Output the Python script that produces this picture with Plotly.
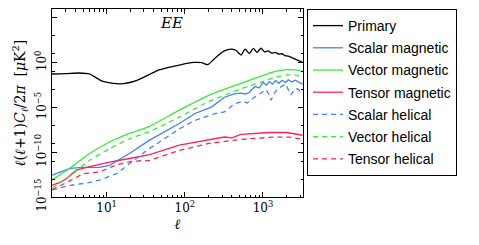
import plotly.graph_objects as go

# ---- data ----
ell_primary = [2, 3, 4.5, 6, 9, 14.7, 24, 47, 85, 130, 165, 196, 230, 264, 321, 390, 453, 525,
               590, 670, 754, 840, 945, 1042, 1172, 1292, 1440, 1600, 1750, 1900, 2100, 2500, 3213]
cl_primary = [0.055, 0.06, 0.071, 0.055, 0.008, 0.0043, 0.010, 0.155, 0.55, 1.07, 1.0, 0.6, 2.0, 6.0,
              21, 33, 23, 7.1, 33, 10.7, 39, 14, 43, 16.6, 21, 11.7, 14, 8.9, 10, 6.3, 5.6, 2.8, 1.07]

ell_scalar_mag = [2, 3.4, 5, 8.1, 10.9, 19.6, 35, 85, 133, 219, 321, 430, 525, 600, 670, 780, 900,
                  1000, 1100, 1200, 1320, 1450, 1600, 1750, 1950, 2100, 2350, 2600, 2900, 3213]
cl_scalar_mag = [2.8e-13, 1.6e-12, 2.0e-12, 2.0e-12, 3.5e-12, 7.1e-11, 2.1e-9, 1.6e-7, 2.0e-6, 1.1e-5,
                 1.4e-4, 3.3e-4, 4.0e-4, 3.2e-4, 5.0e-4, 2.1e-3, 1.6e-3, 6.3e-3, 3.2e-3, 7.9e-3,
                 4.0e-3, 1.0e-2, 5.0e-3, 1.1e-2, 6.3e-3, 1.26e-2, 7.1e-3, 1.1e-2, 6.3e-3, 4.0e-3]

ell_scalar_hel = [2, 3.4, 6, 8.1, 13.4, 19.6, 35, 85, 133, 240, 321, 430, 550, 630, 738, 900, 1094,
                  1200, 1268, 1400, 1525, 1750, 1970, 2150, 2280, 2500, 2770, 3000, 3213]
cl_scalar_hel = [6.3e-15, 2.0e-14, 4.0e-14, 7.9e-14, 4.0e-13, 5.6e-12, 2.5e-10, 4.0e-8, 3.5e-7, 2.0e-6,
                 3.2e-6, 2.5e-5, 5.0e-5, 3.2e-5, 1.0e-4, 3.2e-4, 1.0e-3, 2.5e-4, 6.3e-5, 4.0e-4,
                 1.0e-3, 2.5e-3, 4.0e-3, 6.3e-4, 2.5e-4, 1.0e-3, 1.26e-3, 6.3e-4, 4.0e-4]

ell_vector = [2, 3.37, 6.06, 10.9, 19.6, 35.4, 85, 196, 525, 945, 1400, 2000, 2600, 3213]
cl_vector_mag = [7.9e-14, 1.6e-12, 7.1e-11, 1.4e-9, 1.26e-8, 7.9e-8, 5.0e-6, 2.0e-4, 5.0e-3, 3.2e-2,
                 0.1, 0.166, 0.158, 0.105]
cl_vector_hel = [1.0e-14, 2.0e-13, 1.26e-11, 2.5e-10, 3.2e-9, 2.1e-8, 8.5e-7, 4.0e-5, 1.2e-3, 6.6e-3,
                 2.3e-2, 4.3e-2, 4.0e-2, 2.3e-2]

ell_tensor_mag = [2, 2.5, 3.1, 4.1, 6.06, 10.9, 19.6, 35.4, 85, 196, 321, 400, 525, 1200, 2000, 3213]
cl_tensor_mag = [2.1e-14, 4.0e-14, 1.26e-13, 1.0e-12, 2.5e-12, 7.9e-12, 2.0e-11, 5.5e-11, 6.3e-10,
                 2.1e-9, 5.0e-9, 4.0e-9, 1.0e-8, 1.6e-8, 1.6e-8, 7.9e-9]

ell_tensor_hel = [2, 2.5, 3.37, 5, 8.1, 13.4, 22, 35.4, 85, 196, 525, 1400, 2200, 3213]
cl_tensor_hel = [6.3e-15, 1.6e-14, 6.3e-14, 4.0e-13, 6.3e-13, 4.0e-12, 1.0e-11, 1.26e-11, 1.6e-10,
                 9.1e-10, 2.75e-9, 5.0e-9, 5.0e-9, 2.75e-9]

x_tickvals = [10, 100, 1000]
x_ticktext = ["10<sup>1</sup>", "10<sup>2</sup>", "10<sup>3</sup>"]
x_minor = [3, 4, 5, 6, 7, 8, 9, 20, 30, 40, 50, 60, 70, 80, 90,
           200, 300, 400, 500, 600, 700, 800, 900, 2000, 3000]
y_tickvals = [1e-15, 1e-10, 1e-5, 1, 1e5]
y_ticktext = ["10<sup>\u221215</sup>", "10<sup>\u221210</sup>", "10<sup>\u22125</sup>",
              "10<sup>0</sup>", "10<sup>5</sup>"]
y_minor = [1e-13, 1e-11, 1e-9, 1e-7, 1e-3, 1e-1, 10, 1e3]

BLACK = "#000000"
BLUE = "#4080ff"
GREEN = "#33ee33"
RED = "#ff2255"

fig = go.Figure()
series = [
    ("Primary", ell_primary, cl_primary, BLACK, "solid", "spline"),
    ("Scalar magnetic", ell_scalar_mag, cl_scalar_mag, BLUE, "solid", "linear"),
    ("Vector magnetic", ell_vector, cl_vector_mag, GREEN, "solid", "spline"),
    ("Tensor magnetic", ell_tensor_mag, cl_tensor_mag, RED, "solid", "linear"),
    ("Scalar helical", ell_scalar_hel, cl_scalar_hel, BLUE, "5px,4px", "linear"),
    ("Vector helical", ell_vector, cl_vector_hel, GREEN, "5px,4px", "spline"),
    ("Tensor helical", ell_tensor_hel, cl_tensor_hel, RED, "5px,4px", "linear"),
]
for name, x, y, c, dash, shape in series:
    fig.add_trace(go.Scatter(x=x, y=y, mode="lines", name=name, legendgroup=name,
                             line=dict(color=c, width=1.3, dash=dash, shape=shape,
                                       smoothing=0.6 if shape == "spline" else None)))

serif = "DejaVu Serif"
# the page body keeps its default 8px margin, so the figure is sized/margined to compensate
fig.update_layout(
    width=471, height=237,
    margin=dict(l=44, r=176, t=1, b=48, autoexpand=False),
    plot_bgcolor="white", paper_bgcolor="white",
    showlegend=True,
    legend=dict(x=1.016, y=1.0, xanchor="left", yanchor="top",
                bordercolor="black", borderwidth=1, bgcolor="white", tracegroupgap=1,
                font=dict(family="Liberation Sans", size=14, color="black")),
    annotations=[dict(text="<i>EE</i>", xref="paper", yref="paper", x=0.475, y=0.925,
                      yanchor="middle", showarrow=False,
                      font=dict(family=serif, size=15, color="black"))],
)
fig.update_xaxes(
    type="log", range=[0.30103, 3.512], showgrid=False, zeroline=False, automargin=False,
    showline=True, linecolor="black", linewidth=1, mirror="allticks",
    ticks="inside", ticklen=5, tickcolor="black",
    tickvals=x_tickvals, ticktext=x_ticktext,
    tickfont=dict(family=serif, size=12, color="black"),
    minor=dict(ticks="inside", ticklen=2.5, tickcolor="black", tickvals=x_minor, showgrid=False),
    title=dict(text="<i>\u2113</i>", font=dict(family=serif, size=14, color="black"), standoff=4),
)
fig.update_yaxes(
    type="log", range=[-15, 6], showgrid=False, zeroline=False, automargin=False,
    showline=True, linecolor="black", linewidth=1, mirror="allticks",
    ticks="inside", ticklen=5, tickcolor="black",
    tickvals=y_tickvals, ticktext=y_ticktext, tickangle=-90,
    tickfont=dict(family=serif, size=12, color="black"),
    minor=dict(ticks="inside", ticklen=2.5, tickcolor="black", tickvals=y_minor, showgrid=False),
    title=dict(text="<i>\u2113</i>(<i>\u2113</i>+1)<i>C</i><sub><i>\u2113</i></sub>/2<i>\u03c0</i>  [<i>\u03bc</i>K<sup>2</sup>]",
               font=dict(family=serif, size=14, color="black"), standoff=4),
)

fig.write_html("out.html")
